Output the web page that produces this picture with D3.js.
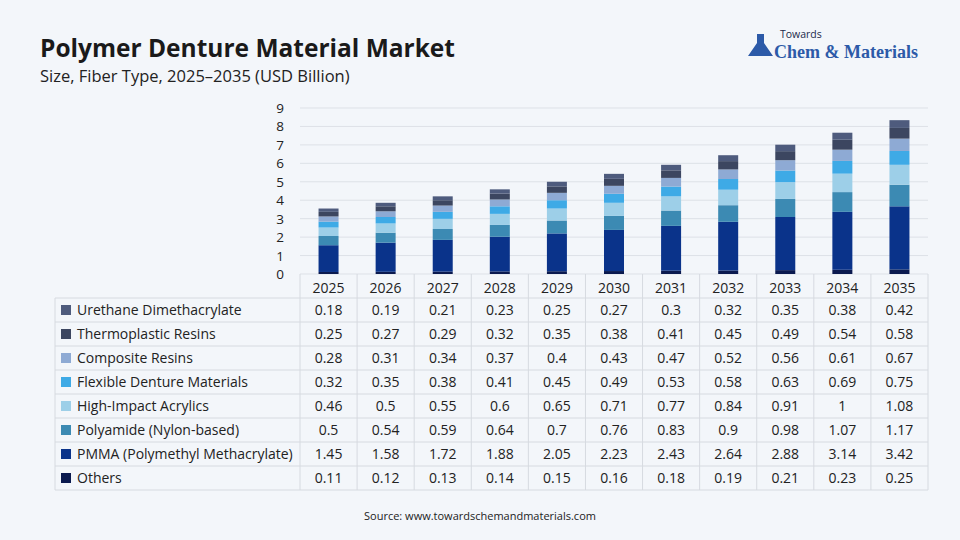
<!DOCTYPE html>
<html><head><meta charset="utf-8">
<script src="https://cdn.jsdelivr.net/npm/d3@7"></script>
<style>body{margin:0;background:#f3f6fa;font-family:"Open Sans",sans-serif}</style>
</head><body><svg id="c" width="960" height="540"></svg>
<script>
const years=["2025","2026","2027","2028","2029","2030","2031","2032","2033","2034","2035"];
const seriesNames=["Others","PMMA (Polymethyl Methacrylate)","Polyamide (Nylon-based)","High-Impact Acrylics","Flexible Denture Materials","Composite Resins","Thermoplastic Resins","Urethane Dimethacrylate"];
const others=[0.11,0.12,0.13,0.14,0.15,0.16,0.18,0.19,0.21,0.23,0.25];
const pmma=[1.45,1.58,1.72,1.88,2.05,2.23,2.43,2.64,2.88,3.14,3.42];
const polyamide=[0.5,0.54,0.59,0.64,0.7,0.76,0.83,0.9,0.98,1.07,1.17];
const highImpact=[0.46,0.5,0.55,0.6,0.65,0.71,0.77,0.84,0.91,1,1.08];
const flexible=[0.32,0.35,0.38,0.41,0.45,0.49,0.53,0.58,0.63,0.69,0.75];
const composite=[0.28,0.31,0.34,0.37,0.4,0.43,0.47,0.52,0.56,0.61,0.67];
const thermo=[0.25,0.27,0.29,0.32,0.35,0.38,0.41,0.45,0.49,0.54,0.58];
const urethane=[0.18,0.19,0.21,0.23,0.25,0.27,0.3,0.32,0.35,0.38,0.42];
const yTicks=[0,1,2,3,4,5,6,7,8,9];
const values=[others,pmma,polyamide,highImpact,flexible,composite,thermo,urethane];
const colors=["#0b1a4f","#0a338a","#3c8ab3","#9dcfe8","#3eaae6","#8eaad4","#3c4660","#4e5b7d"];

const svg=d3.select("#c");
svg.append("text").attr("x",40).attr("y",57).attr("font-size",24.5).attr("font-weight",700).attr("fill","#1a1a1a").text("Polymer Denture Material Market");
svg.append("text").attr("x",40).attr("y",82).attr("font-size",16.5).attr("fill","#222").text("Size, Fiber Type, 2025–2035 (USD Billion)");
const lg=svg.append("g");
lg.append("path").attr("d","M757 34 h7 v9 l9 13 h-25 l9 -13z").attr("fill","#2c5aa8");
lg.append("text").attr("x",780).attr("y",38).attr("font-size",10.5).attr("fill","#1a2a4a").text("Towards");
lg.append("text").attr("x",774).attr("y",58).attr("font-size",18).attr("font-weight",700).attr("font-family","Liberation Serif, serif").attr("fill","#2c5aa8").text("Chem & Materials");

const x0=300,x1=928,yb=274,yt=108;
const x=d3.scaleBand().domain(years).range([x0,x1]);
const y=d3.scaleLinear().domain([0,9]).range([yb,yt]);
svg.append("g").selectAll("line").data(yTicks).join("line")
 .attr("x1",x0).attr("x2",x1).attr("y1",d=>y(d)).attr("y2",d=>y(d)).attr("stroke","#dde1e7");
svg.append("g").selectAll("text").data(yTicks).join("text")
 .attr("x",284).attr("y",d=>y(d)+5).attr("text-anchor","end").attr("font-size",13.5).attr("fill","#222").text(d=>d);
const stackData=years.map((yr,i)=>{const o={year:yr};seriesNames.forEach((s,j)=>o[s]=values[j][i]);return o;});
const st=d3.stack().keys(seriesNames)(stackData);
svg.append("g").selectAll("g").data(st).join("g").attr("fill",(d,i)=>colors[i])
 .selectAll("rect").data(d=>d).join("rect")
 .attr("x",d=>x(d.data.year)+x.bandwidth()/2-10).attr("width",20)
 .attr("y",d=>y(d[1])).attr("height",d=>y(d[0])-y(d[1]));

const rowH=24, hdrY=274, tLeft=55;
const g=svg.append("g").attr("font-size",14).attr("fill","#222");
const rows=seriesNames.slice().reverse();
const rowsVals=values.slice().reverse();
const rowsCol=colors.slice().reverse();
const lineC="#d6dae0";
years.forEach(yr=>g.append("text").attr("x",x(yr)+x.bandwidth()/2).attr("y",hdrY+19).attr("text-anchor","middle").text(yr));
for(let r=0;r<=8;r++){const yy=hdrY+rowH+r*rowH;
 g.append("line").attr("x1",tLeft).attr("x2",x1).attr("y1",yy).attr("y2",yy).attr("stroke",lineC);}
years.forEach((yr,i)=>g.append("line").attr("x1",x(yr)).attr("x2",x(yr)).attr("y1",hdrY).attr("y2",hdrY+rowH*9).attr("stroke",lineC));
g.append("line").attr("x1",x1).attr("x2",x1).attr("y1",hdrY).attr("y2",hdrY+rowH*9).attr("stroke",lineC);
g.append("line").attr("x1",tLeft).attr("x2",tLeft).attr("y1",hdrY+rowH).attr("y2",hdrY+rowH*9).attr("stroke",lineC);
rows.forEach((nm,r)=>{const cy=hdrY+rowH*(r+1)+rowH/2;
 g.append("rect").attr("x",61).attr("y",cy-5).attr("width",10).attr("height",10).attr("fill",rowsCol[r]);
 g.append("text").attr("x",77).attr("y",cy+5).text(nm);
 years.forEach((yr,i)=>g.append("text").attr("x",x(yr)+x.bandwidth()/2).attr("y",cy+5).attr("text-anchor","middle").text(rowsVals[r][i]));
});
svg.append("text").attr("x",480).attr("y",520).attr("text-anchor","middle").attr("font-size",11).attr("fill","#222").text("Source: www.towardschemandmaterials.com");
</script></body></html>
